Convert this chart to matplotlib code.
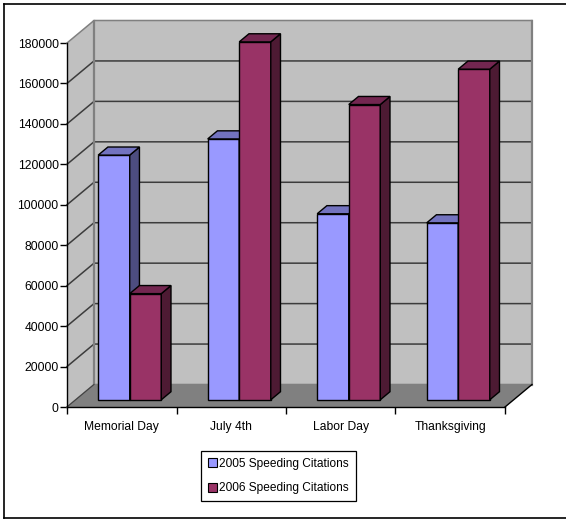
import matplotlib
matplotlib.use('Agg')
import matplotlib.pyplot as plt
from matplotlib.patches import Polygon, Patch

plt.rcParams['font.family'] = ['Liberation Sans', 'DejaVu Sans']

categories = ['Memorial Day', 'July 4th', 'Labor Day', 'Thanksgiving']
citations_2005 = [121000, 129000, 92000, 87500]
citations_2006 = [52500, 177000, 146000, 163500]
series_names = ['2005 Speeding Citations', '2006 Speeding Citations']
y_ticks = list(range(0, 180001, 20000))

W, H = 566, 519
fig = plt.figure(figsize=(W / 100, H / 100), dpi=100)
fig.patch.set_facecolor('white')

# axes is the front plane of the fake 3d box
left, right, top, bottom = 67, 505, 43, 407
ax = fig.add_axes([left / W, 1 - bottom / H, (right - left) / W, (bottom - top) / H])
ax.set_xlim(0, 4)
ax.set_ylim(0, 180000)
ax.patch.set_visible(False)

px_x = 4 / (right - left)
px_y = 180000 / (bottom - top)
depth_x = 27 * px_x
depth_y = 22.5 * px_y


def proj(x, y, d):
    # d = 0 front plane, d = 1 back wall
    return (x + d * depth_x, y + d * depth_y)


def face(pts, color, edge='none', lw=0, z=1):
    ax.add_patch(Polygon([proj(*p) for p in pts], closed=True, facecolor=color,
                         edgecolor=edge, linewidth=lw, clip_on=False, zorder=z))


ymax = y_ticks[-1]
# back wall, side wall, floor
face([(0, 0, 1), (4, 0, 1), (4, ymax, 1), (0, ymax, 1)], '#c0c0c0')
face([(0, 0, 0), (0, 0, 1), (0, ymax, 1), (0, ymax, 0)], '#c0c0c0')
face([(0, 0, 0), (4, 0, 0), (4, 0, 1), (0, 0, 1)], '#808080')

for v in y_ticks:
    xs, ys = zip(proj(0, v, 0), proj(0, v, 1), proj(4, v, 1))
    col = '#808080' if v in (0, ymax) else '#3c3c3c'
    ax.plot(xs, ys, color=col, lw=1.1, clip_on=False, zorder=2)
# wall edges
for pts in ([proj(0, 0, 1), proj(0, ymax, 1)], [proj(4, 0, 1), proj(4, ymax, 1)]):
    xs, ys = zip(*pts)
    ax.plot(xs, ys, color='#808080', lw=1.6, clip_on=False, zorder=2)
xs, ys = zip(proj(4, 0, 0), proj(4, 0, 1))
ax.plot(xs, ys, color='black', lw=1, clip_on=False, zorder=2)
xs, ys = zip(proj(0, 0, 0), proj(0, 0, 1))
ax.plot(xs, ys, color='#404040', lw=0.8, clip_on=False, zorder=2)

# bars
bar_w = 0.288
gap_left = (1 - 2 * bar_w) / 2
d0, d1 = 0.32, 0.68
styles = [('#9999ff', '#4d4d80', '#7373bf'), ('#993366', '#4d1a33', '#732650')]


def bar3d(x, w, v, cols, z):
    front, side, topc = cols
    kw = dict(edge='black', lw=1.0, z=z)
    face([(x, 0, d0), (x + w, 0, d0), (x + w, v, d0), (x, v, d0)], front, **kw)
    face([(x + w, 0, d0), (x + w, 0, d1), (x + w, v, d1), (x + w, v, d0)], side, **kw)
    face([(x, v, d0), (x + w, v, d0), (x + w, v, d1), (x, v, d1)], topc, **kw)


for i in range(len(categories)):
    x0 = i + gap_left - 0.006
    # taller neighbour covers the shorter one's side, so draw in x order
    bar3d(x0, bar_w, citations_2005[i], styles[0], 3 + i)
    bar3d(x0 + bar_w, bar_w, citations_2006[i], styles[1], 3 + i + 0.5)

# axes furniture
for s in ('top', 'right'):
    ax.spines[s].set_visible(False)
for s in ('left', 'bottom'):
    ax.spines[s].set_linewidth(1.0)
    ax.spines[s].set_zorder(10)
ax.set_yticks(y_ticks)
ax.set_yticklabels([str(v) for v in y_ticks], fontsize=8.7, color='black')
ax.set_xticks(range(len(categories) + 1))
ax.set_xticklabels([])
ax.set_xticks([i + 0.5 for i in range(len(categories))], categories, minor=True, fontsize=8.7)
ax.tick_params(axis='y', length=5, width=1, pad=1)
ax.tick_params(axis='x', which='major', length=5, width=1)
ax.tick_params(axis='x', which='minor', length=0, pad=10)

handles = [Patch(facecolor=styles[0][0], edgecolor='black', linewidth=0.8),
           Patch(facecolor=styles[1][0], edgecolor='black', linewidth=0.8)]
leg = fig.legend(handles, series_names, loc='upper left',
                 bbox_to_anchor=(201 / W, 1 - 451 / H), fontsize=8.6,
                 frameon=True, fancybox=False, edgecolor='black', framealpha=1,
                 borderpad=0.58, labelspacing=1.05, handlelength=0.8, handleheight=0.8,
                 handletextpad=0.15, borderaxespad=0)
leg.get_frame().set_linewidth(0.9)

# picture border, open on the right
for xs, ys in (([3.5, 3.5], [4, 518]), ([3.5, W], [4, 4]), ([3.5, W], [518, 518])):
    fig.add_artist(plt.Line2D([v / W for v in xs], [1 - v / H for v in ys], color='black', lw=1.2))

fig.savefig('out.png', dpi=100)
